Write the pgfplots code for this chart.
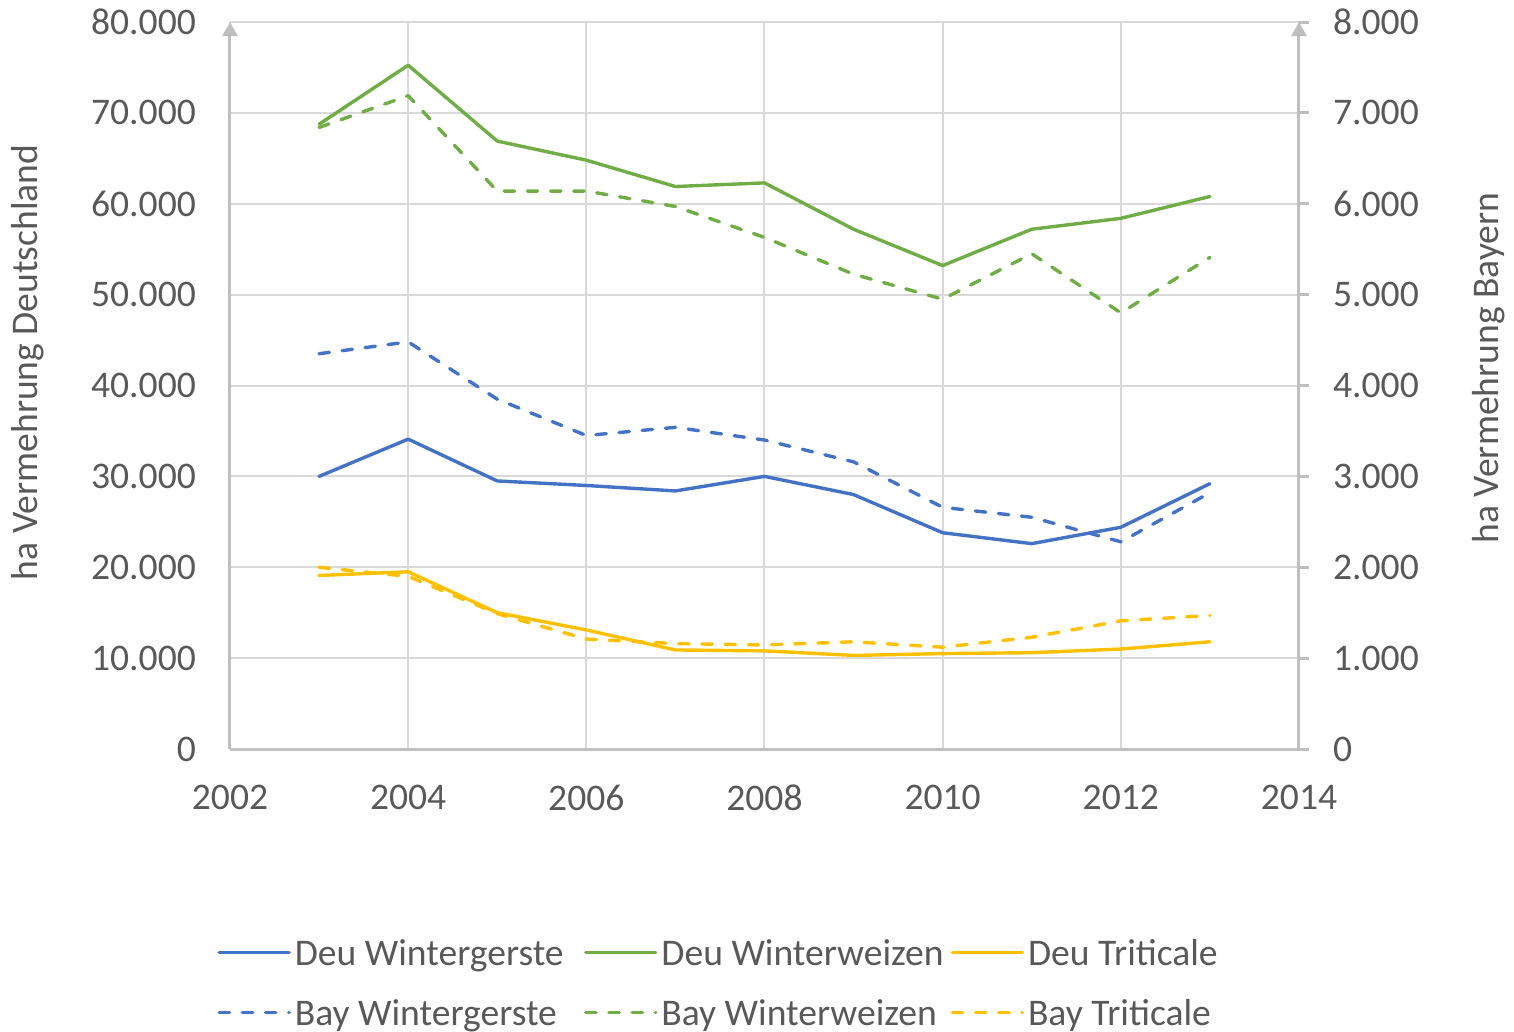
\documentclass[border=0pt]{standalone}
\usepackage{fontspec}
\setmainfont{Carlito}
\usepackage{pgfplots}
\pgfplotsset{compat=1.18}
\usetikzlibrary{arrows.meta}
\definecolor{cBlue}{HTML}{4472C4}
\definecolor{cGreen}{HTML}{70AD47}
\definecolor{cGold}{HTML}{FFC000}
\definecolor{cAxis}{HTML}{BFBFBF}
\definecolor{cGrid}{HTML}{D9D9D9}
\definecolor{cText}{HTML}{595959}

\pgfplotsset{
  base/.style={
    scale only axis, width=267.25pt, height=181.75pt,
    xmin=2002, xmax=2014,
    font=\fontsize{9.4}{11.3}\selectfont,
    tick label style={text=cText},
    label style={text=cText},
    scaled y ticks=false,
    yticklabel style={/pgf/number format/1000 sep={.}, /pgf/number format/fixed, /pgf/number format/assume math mode=true},
    xticklabel style={/pgf/number format/1000 sep={}, /pgf/number format/assume math mode=true, yshift=-5.5pt},
  },
  sol/.style={line width=0.85pt, line join=round, line cap=round},
  das/.style={line width=0.85pt, line join=round, line cap=round, dash pattern=on 2.6pt off 3.2pt},
}

\begin{document}
\begin{tikzpicture}
\useasboundingbox (-57.5pt,-70.5pt) rectangle (321pt,187.25pt);
\begin{axis}[base,
  ymin=0, ymax=80000,
  axis x line=bottom, axis y line=left,
  xtick={2002,2004,...,2014},
  ytick={0,10000,...,80000},
  yticklabel style={xshift=-5pt},
  major tick length=0pt,
  grid=major,
  major grid style={cGrid, line width=0.5pt},
  x axis line style={cAxis, line width=0.75pt, -},
  y axis line style={cAxis, line width=0.75pt, -{Triangle[width=3.75pt,length=3.5pt]}},
  ylabel={ha Vermehrung Deutschland},
  ylabel style={at={(axis description cs:-0.189,0.532)}, anchor=center, text=cText},
]
\addplot[sol, cBlue] coordinates {(2003,30000) (2004,34100) (2005,29500) (2006,29000) (2007,28400) (2008,30000) (2009,28000) (2010,23800) (2011,22600) (2012,24400) (2013,29200)};
\addplot[sol, cGreen] coordinates {(2003,68750) (2004,75250) (2005,66900) (2006,64800) (2007,61900) (2008,62300) (2009,57200) (2010,53200) (2011,57200) (2012,58400) (2013,60800)};
\addplot[sol, cGold] coordinates {(2003,19100) (2004,19500) (2005,15000) (2006,13100) (2007,10900) (2008,10800) (2009,10300) (2010,10500) (2011,10600) (2012,11000) (2013,11800)};
\end{axis}
\begin{axis}[base,
  ymin=0, ymax=8000,
  axis x line=none, axis y line=right,
  ytick={0,1000,...,8000},
  yticklabel style={xshift=2.5pt},
  major tick length=2.5pt, tick align=outside,
  ytick style={cAxis, line width=0.75pt},
  y axis line style={cAxis, line width=0.75pt, -{Triangle[width=3.75pt,length=3.5pt]}},
  ylabel={ha Vermehrung Bayern},
  ylabel style={at={(axis description cs:1.177,0.524)}, anchor=center, text=cText},
  legend columns=3,
  legend style={at={(axis description cs:-0.0125,-0.2527)}, anchor=north west, draw=none, fill=none,
    inner sep=0pt, row sep=5.7pt, nodes={inner sep=0pt, text=cText},
    /tikz/every odd column/.append style={column sep=1pt}},
  legend cell align=left,
  legend image code/.code={\draw[#1] (0pt,0pt) -- (17.5pt,0pt);},
]
\addlegendimage{sol, cBlue}
\addlegendentry{\makebox[72.3pt][l]{\strut Deu Wintergerste}}
\addlegendimage{sol, cGreen}
\addlegendentry{\makebox[72.3pt][l]{\strut Deu Winterweizen}}
\addlegendimage{sol, cGold}
\addlegendentry{\makebox[72.3pt][l]{\strut Deu Triticale}}
\addplot[das, cBlue] coordinates {(2003,4350) (2004,4480) (2005,3850) (2006,3450) (2007,3540) (2008,3400) (2009,3160) (2010,2660) (2011,2550) (2012,2280) (2013,2820)};
\addlegendentry{\makebox[72.3pt][l]{\strut Bay Wintergerste}}
\addplot[das, cGreen] coordinates {(2003,6840) (2004,7190) (2005,6140) (2006,6140) (2007,5970) (2008,5630) (2009,5225) (2010,4950) (2011,5450) (2012,4800) (2013,5410)};
\addlegendentry{\makebox[72.3pt][l]{\strut Bay Winterweizen}}
\addplot[das, cGold] coordinates {(2003,2000) (2004,1900) (2005,1490) (2006,1210) (2007,1160) (2008,1145) (2009,1180) (2010,1120) (2011,1230) (2012,1410) (2013,1470)};
\addlegendentry{\makebox[72.3pt][l]{\strut Bay Triticale}}
\end{axis}
\end{tikzpicture}
\end{document}
